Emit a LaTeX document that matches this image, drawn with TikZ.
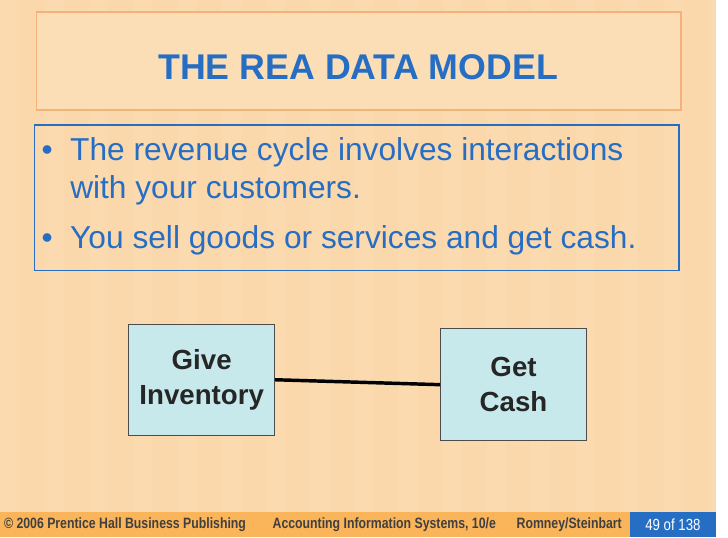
\documentclass[tikz,border=0pt]{standalone}
\usepackage{fontspec}
\setmainfont{Liberation Sans}
\usetikzlibrary{positioning}
\definecolor{bgpeach}{RGB}{251,216,172}
\definecolor{titlefill}{RGB}{252,222,182}
\definecolor{titleedge}{RGB}{244,178,120}
\definecolor{bluetext}{RGB}{38,110,196}
\definecolor{footorange}{RGB}{250,180,90}
\definecolor{boxcyan}{RGB}{200,233,236}
\newcommand{\narrow}[1]{\scalebox{0.82}[1]{#1}}
\begin{document}
\begin{tikzpicture}[
            x=0.03cm, y=-0.03cm,
            entity/.style={draw=black!70, line width=0.8pt, fill=boxcyan, minimum width=4.45cm, minimum height=3.4cm,
              font=\bfseries\fontsize{24}{30}\selectfont, align=center, text=black!85},
            foot/.style={font=\bfseries\fontsize{13}{15}\selectfont, text=black!75, anchor=west}
          ]

          % Background
          \fill[bgpeach] (0,0) rectangle (728,546);
          \foreach \x in {0,45,...,720} {\fill[white, opacity=0.06] (\x,0) rectangle (\x+20,520);}
          \useasboundingbox (0,0) rectangle (728,546);

          % Title and bullets
          \draw[titleedge, fill=titlefill, line width=1.5pt] (37,12) rectangle (692,112);
          \node[text=bluetext, font=\bfseries\fontsize{31}{36}\selectfont] (title) at (364,68) {THE REA DATA MODEL};
          \draw[bluetext, line width=1.2pt] (35,127) rectangle (690,275);
          \node[anchor=north west, text=bluetext, font=\fontsize{27.5}{33}\selectfont, align=left, inner sep=0pt] (bullets) at (42,140)
            {\textbullet\ \ The revenue cycle involves interactions\\
             \phantom{\textbullet\ \ }with your customers.\\[10pt]
             \textbullet\ \ You sell goods or services and get cash.};

          % Entities
          \node[entity] (give) at (205,386) {Give\\Inventory};
          \node[entity] (cash) at (522,391) {Get\\Cash};
          \draw[line width=3pt] (give.east) -- (cash.west);

          % Footer
          \fill[footorange] (0,520) rectangle (728,546);
          \fill[bluetext] (640,520) rectangle (728,546);
          \node[foot] (copy) at (0,533) {\narrow{\textcopyright\ 2006 Prentice Hall Business Publishing}};
          \node[foot] (book) at (273,533) {\narrow{Accounting Information Systems, 10/e}};
          \node[foot] (auth) at (521,533) {\narrow{Romney/Steinbart}};
          \node[font=\fontsize{14}{16}\selectfont, text=white] (page) at (684,533) {\narrow{49 of 138}};

        \end{tikzpicture}
\end{document}
